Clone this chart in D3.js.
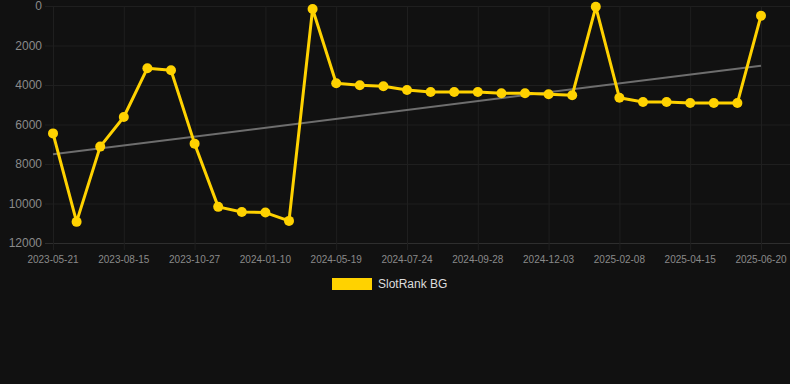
<!DOCTYPE html>
<html>
<head>
<meta charset="utf-8">
<script src="https://cdn.jsdelivr.net/npm/d3@7"></script>
<style>
  html, body { margin: 0; padding: 0; background: #111111; }
  svg { display: block; font-family: "Liberation Sans", Arial, sans-serif; }
</style>
</head>
<body>
<div id="chart"></div>
<script>
// rank per snapshot (lower is better, so the axis is reversed)
const ranks = [6450, 10930, 7120, 5620, 3150, 3250, 6970, 10170, 10430, 10460, 10880,
               150, 3910, 4010, 4060, 4250, 4350, 4350, 4350, 4420, 4420, 4470, 4520,
               40, 4650, 4860, 4860, 4910, 4910, 4910, 490];
const tickLabels = ['2023-05-21', '2023-08-15', '2023-10-27', '2024-01-10', '2024-05-19',
                    '2024-07-24', '2024-09-28', '2024-12-03', '2025-02-08', '2025-04-15', '2025-06-20'];
const yTicks = [0, 2000, 4000, 6000, 8000, 10000, 12000];
const trend = [7510, 3020]; // trend line value at first and last point
const seriesName = 'SlotRank BG';

const W = 790, H = 384;
const margin = { top: 6, right: 29, bottom: 141, left: 53 };
const width = W - margin.left - margin.right;
const height = H - margin.top - margin.bottom;

const svg = d3.select('#chart')
  .append('svg')
    .attr('width', W)
    .attr('height', H);

const g = svg.append('g')
    .attr('transform', `translate(${margin.left},${margin.top})`);

const idx = ranks.map((d, i) => i);

const x = d3.scalePoint()
    .domain(idx)
    .range([0, width]);

const y = d3.scaleLinear()
    .domain([0, 12000])
    .range([0, height]);

// grid
g.append('g')
  .selectAll('line')
  .data(yTicks)
  .join('line')
    .attr('x1', -8)
    .attr('x2', W - margin.left)
    .attr('y1', d => y(d) + 0.5)
    .attr('y2', d => y(d) + 0.5)
    .attr('stroke', (d, i) => i === yTicks.length - 1 ? '#2e2e2e' : '#1f1f1f')
    .attr('stroke-width', 1);

const xTickIdx = idx.filter(i => i % 3 === 0);

g.append('g')
  .selectAll('line')
  .data(xTickIdx)
  .join('line')
    .attr('x1', d => x(d) + 0.5)
    .attr('x2', d => x(d) + 0.5)
    .attr('y1', 0)
    .attr('y2', height + 7)
    .attr('stroke', '#1f1f1f')
    .attr('stroke-width', 1);

// y labels
g.append('g')
  .selectAll('text')
  .data(yTicks)
  .join('text')
    .attr('x', -11)
    .attr('y', d => y(d))
    .attr('dy', '0.35em')
    .attr('text-anchor', 'end')
    .attr('fill', '#8a8a8a')
    .attr('font-size', 12)
    .text(d => d);

// x labels
g.append('g')
  .selectAll('text')
  .data(xTickIdx)
  .join('text')
    .attr('x', d => x(d))
    .attr('y', height + 16)
    .attr('dy', '0.35em')
    .attr('text-anchor', 'middle')
    .attr('fill', '#8a8a8a')
    .attr('font-size', 10)
    .text((d, i) => tickLabels[i]);

// trend line
g.append('line')
    .attr('x1', x(0))
    .attr('x2', x(idx.length - 1))
    .attr('y1', y(trend[0]))
    .attr('y2', y(trend[1]))
    .attr('stroke', '#6e6e6e')
    .attr('stroke-width', 2);

// series
const gold = '#ffd200';
g.append('path')
    .datum(ranks)
    .attr('fill', 'none')
    .attr('stroke', gold)
    .attr('stroke-width', 3)
    .attr('stroke-linejoin', 'round')
    .attr('d', d3.line()
      .x((d, i) => x(i))
      .y(d => y(d)));

g.selectAll('.pt')
  .data(ranks)
  .join('circle')
    .attr('class', 'pt')
    .attr('cx', (d, i) => x(i))
    .attr('cy', d => y(d))
    .attr('r', 5)
    .attr('fill', gold);

// legend
const legend = svg.append('g')
    .attr('transform', 'translate(332,278)');
legend.append('rect')
    .attr('width', 40)
    .attr('height', 12)
    .attr('fill', gold);
legend.append('text')
    .attr('x', 46)
    .attr('y', 6)
    .attr('dy', '0.35em')
    .attr('fill', '#dddddd')
    .attr('font-size', 12)
    .text(seriesName);
</script>
</body>
</html>
